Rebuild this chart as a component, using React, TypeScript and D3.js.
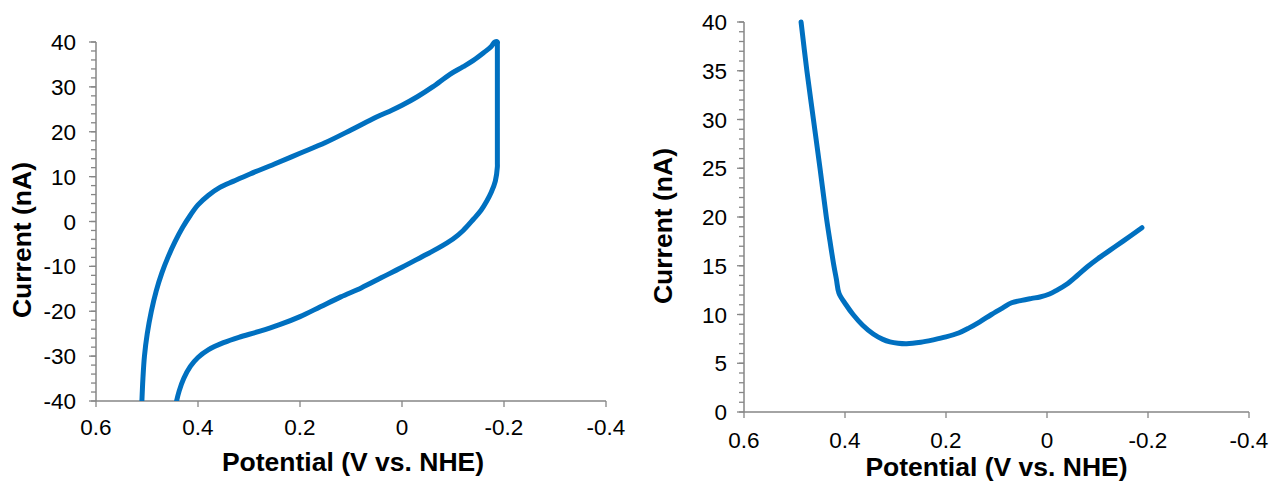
import React from "react";
import * as d3 from "d3";

// ---- Data: cyclic voltammogram (left panel) ----
const cvPotential = [
  0.51, 0.508, 0.505, 0.4995, 0.4915, 0.482, 0.471, 0.459, 0.445, 0.43, 0.415, 0.4, 0.38, 0.357, 0.33, 0.298, 0.25,
  0.2, 0.15, 0.1, 0.05, 0.02, 0.0, -0.03, -0.06, -0.094, -0.12, -0.14, -0.16, -0.175, -0.182, -0.187, -0.187,
  -0.187, -0.187, -0.183, -0.175, -0.166, -0.155, -0.14, -0.12, -0.1, -0.07, -0.04, 0.0, 0.04, 0.08, 0.12, 0.16, 0.2,
  0.24, 0.28, 0.32, 0.35, 0.38, 0.4, 0.415, 0.428, 0.437, 0.442,
];
const cvCurrent = [
  -40, -35, -30, -25, -20, -15.5, -11.5, -8, -4.5, -1.3, 1.4, 3.7, 5.8, 7.6, 9.0, 10.6, 12.8,
  15.2, 17.6, 20.4, 23.3, 24.8, 25.9, 27.8, 30.0, 32.8, 34.5, 35.9, 37.6, 39.0, 40, 40, 39.5,
  13, 12.2, 9, 6.5, 4.5, 2.5, 0.5, -2.0, -3.9, -6.0, -7.8, -10.2, -12.5, -14.8, -16.8, -19.0, -21.2,
  -23.0, -24.5, -25.8, -27.0, -28.6, -30.3, -32.3, -35, -37.8, -40,
];

// ---- Data: linear sweep (right panel) ----
const lsvPotential = [
  0.487, 0.4755, 0.4625, 0.4495, 0.437, 0.43, 0.423, 0.417, 0.412, 0.398, 0.384, 0.365, 0.344, 0.325, 0.311, 0.295,
  0.278, 0.25, 0.225, 0.2, 0.175, 0.155, 0.133, 0.11, 0.087, 0.07, 0.05, 0.03, 0.014, -0.005, -0.02, -0.039, -0.06,
  -0.08, -0.1, -0.125, -0.15, -0.188,
];
const lsvCurrent = [
  40, 35, 30, 25, 20, 17.6, 15.3, 13.6, 12.2, 11.0, 10.0, 8.9, 8.0, 7.45, 7.2, 7.05,
  7.0, 7.15, 7.4, 7.7, 8.1, 8.6, 9.25, 10.0, 10.7, 11.2, 11.45, 11.65, 11.8, 12.1, 12.5, 13.1, 14.0,
  14.9, 15.7, 16.6, 17.5, 18.9,
];

// ---- Axis ticks ----
const xTicks = [0.6, 0.4, 0.2, 0, -0.2, -0.4];
const xTickLabels = ["0.6", "0.4", "0.2", "0", "-0.2", "-0.4"];
const leftYTicks = [-40, -30, -20, -10, 0, 10, 20, 30, 40];
const rightYTicks = [0, 5, 10, 15, 20, 25, 30, 35, 40];
const xTitle = "Potential (V vs. NHE)";
const yTitle = "Current (nA)";

const FONT = "'Liberation Sans', Arial, sans-serif";
const AXIS = "#868686";
const LINE = "#0070C0";

type PanelProps = {
  id: string;
  xs: number[];
  ys: number[];
  xRange: [number, number];
  yDomain: [number, number];
  yRange: [number, number];
  yTicks: number[];
  minorStep: number;
  yLabelGap: number;
  xLabelOffset: number;
  xTitleX: number;
  xTitleY: number;
  yTitleX: number;
  yTitleY: number;
};

function Panel(p: PanelProps) {
  const x = d3.scaleLinear().domain([0.6, -0.4]).range(p.xRange);
  const y = d3.scaleLinear().domain(p.yDomain).range(p.yRange);
  const x0 = p.xRange[0];
  const yBottom = p.yRange[0];
  const minors = d3.range(p.yDomain[0], p.yDomain[1] + 1e-9, p.minorStep);
  const pts = p.xs.map((v, i) => [v, p.ys[i]] as [number, number]);
  const line = d3
    .line<[number, number]>()
    .x((d) => x(d[0]))
    .y((d) => y(d[1]))
    .curve(d3.curveCatmullRom.alpha(0.5));
  return (
    <g>
      <defs>
        <clipPath id={p.id}>
          <rect x={p.xRange[0]} y={p.yRange[1] - 3} width={p.xRange[1] - p.xRange[0]} height={p.yRange[0] - p.yRange[1] + 3} />
        </clipPath>
      </defs>
      {minors.map((t) => (
        <line key={"m" + t} x1={x0 - 5} x2={x0} y1={y(t)} y2={y(t)} stroke={AXIS} strokeWidth={1.3} />
      ))}
      {p.yTicks.map((t) => (
        <g key={"y" + t}>
          <line x1={x0 - 7} x2={x0} y1={y(t)} y2={y(t)} stroke={AXIS} strokeWidth={1.3} />
          <text x={x0 - p.yLabelGap} y={y(t)} dy="0.36em" textAnchor="end" fontSize={22.5} fontFamily={FONT} fill="#000">
            {String(t)}
          </text>
        </g>
      ))}
      {xTicks.map((t, i) => (
        <g key={"x" + t}>
          <line x1={x(t)} x2={x(t)} y1={yBottom} y2={yBottom + 6} stroke={AXIS} strokeWidth={1.3} />
          <text x={x(t)} y={yBottom + p.xLabelOffset} textAnchor="middle" fontSize={22.5} fontFamily={FONT} fill="#000">
            {xTickLabels[i]}
          </text>
        </g>
      ))}
      <line x1={x0} x2={x0} y1={p.yRange[1]} y2={yBottom} stroke={AXIS} strokeWidth={1.5} />
      <line x1={x0} x2={p.xRange[1]} y1={yBottom} y2={yBottom} stroke={AXIS} strokeWidth={1.5} />
      <path
        d={line(pts) || ""}
        fill="none"
        stroke={LINE}
        strokeWidth={5}
        strokeLinejoin="round"
        strokeLinecap="round"
        clipPath={`url(#${p.id})`}
      />
      <text x={p.xTitleX} y={p.xTitleY} textAnchor="middle" fontSize={26.5} fontWeight="bold" fontFamily={FONT} fill="#000">
        {xTitle}
      </text>
      <text
        transform={`translate(${p.yTitleX},${p.yTitleY}) rotate(-90)`}
        textAnchor="middle"
        fontSize={26.5}
        fontWeight="bold"
        fontFamily={FONT}
        fill="#000"
      >
        {yTitle}
      </text>
    </g>
  );
}

export default function App() {
  return (
    <svg width={1270} height={482} style={{ position: "absolute", left: 0, top: 0, background: "#fff" }}>
      <rect width={1270} height={482} fill="#fff" />
      <Panel
        id="clipL"
        xs={cvPotential}
        ys={cvCurrent}
        xRange={[96, 606]}
        yDomain={[-40, 40]}
        yRange={[401, 42]}
        yTicks={leftYTicks}
        minorStep={2}
        yLabelGap={20}
        xLabelOffset={34}
        xTitleX={353}
        xTitleY={471}
        yTitleX={31}
        yTitleY={240}
      />
      <Panel
        id="clipR"
        xs={lsvPotential}
        ys={lsvCurrent}
        xRange={[744, 1249]}
        yDomain={[0, 40]}
        yRange={[412, 22]}
        yTicks={rightYTicks}
        minorStep={1}
        yLabelGap={17}
        xLabelOffset={36}
        xTitleX={996.5}
        xTitleY={476}
        yTitleX={672}
        yTitleY={226}
      />
    </svg>
  );
}
